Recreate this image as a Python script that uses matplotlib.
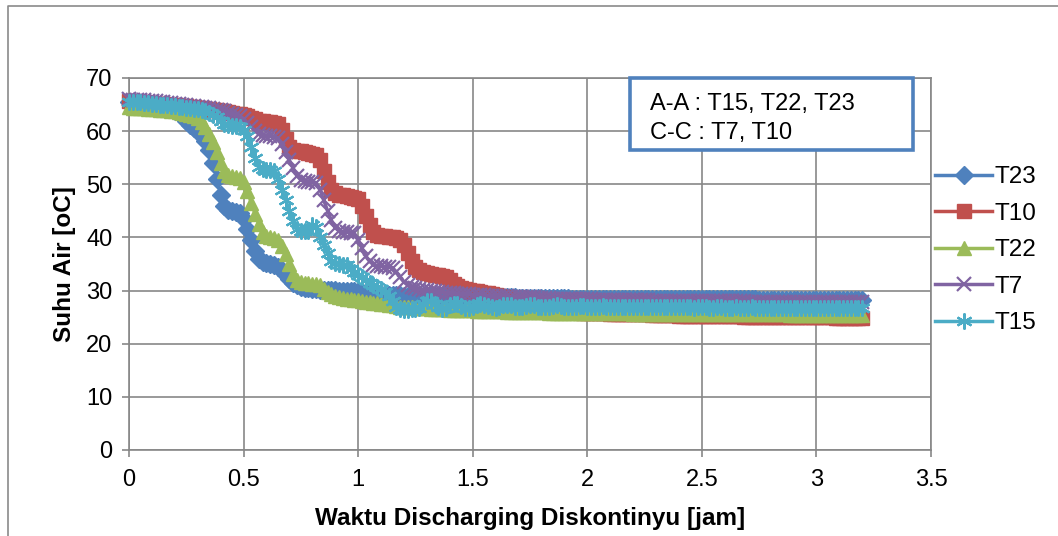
import numpy as np
import matplotlib
matplotlib.use('Agg')
import matplotlib.pyplot as plt
from matplotlib.patches import Rectangle
from matplotlib.lines import Line2D
from matplotlib.ticker import FormatStrFormatter

plt.rcParams['font.family'] = ['Liberation Sans', 'DejaVu Sans']

# waktu pengukuran tiap 1 menit, 0 - 192 menit
menit = np.arange(0, 193)
waktu = menit / 60.0

T23 = [65.5, 65.4, 65.4, 65.3, 65.2, 65.1, 65.0, 64.9, 64.8, 64.6,
       64.4, 64.1, 63.8, 63.4, 62.8, 62.0, 61.2, 60.5, 59.8, 59.2,
       58.2, 56.5, 54.0, 51.0, 48.0, 46.0, 45.2, 45.0, 44.8, 44.6,
       43.5, 41.5, 39.5, 37.5, 36.0, 35.3, 35.1, 35.0, 34.8, 34.5,
       33.8, 33.0, 32.2, 31.5, 31.0, 30.7, 30.5, 30.4, 30.3, 30.3,
       30.2, 30.2, 30.1, 30.1, 30.1, 30.0, 30.0, 30.0, 30.0, 29.9,
       29.8, 29.7, 29.6, 29.5, 29.4, 29.3, 29.3, 29.2, 29.2, 29.1,
       29.1, 29.1, 29.0, 29.0, 29.0, 29.0, 29.0, 28.9, 28.9, 28.9,
       28.9, 28.9, 28.9, 28.8, 28.8, 28.8, 28.8, 28.8, 28.8, 28.8,
       28.8, 28.7, 28.7, 28.7, 28.7, 28.7, 28.7, 28.7, 28.7, 28.7,
       28.7, 28.7, 28.6, 28.6, 28.6, 28.6, 28.6, 28.6, 28.6, 28.6,
       28.6, 28.6, 28.6, 28.6, 28.6, 28.6, 28.5, 28.5, 28.5, 28.5,
       28.5, 28.5, 28.5, 28.5, 28.5, 28.5, 28.5, 28.5, 28.5, 28.5,
       28.5, 28.5, 28.5, 28.5, 28.5, 28.4, 28.4, 28.4, 28.4, 28.4,
       28.4, 28.4, 28.4, 28.4, 28.4, 28.4, 28.4, 28.4, 28.4, 28.4,
       28.4, 28.4, 28.4, 28.4, 28.4, 28.4, 28.4, 28.4, 28.4, 28.4,
       28.4, 28.4, 28.4, 28.4, 28.4, 28.3, 28.3, 28.3, 28.3, 28.3,
       28.3, 28.3, 28.3, 28.3, 28.3, 28.3, 28.3, 28.3, 28.3, 28.3,
       28.3, 28.3, 28.3, 28.3, 28.3, 28.3, 28.3, 28.3, 28.3, 28.3,
       28.3, 28.3, 28.3]

T10 = [65.6, 65.5, 65.5, 65.4, 65.4, 65.3, 65.3, 65.2, 65.2, 65.1,
       65.0, 65.0, 64.9, 64.8, 64.8, 64.7, 64.6, 64.5, 64.4, 64.3,
       64.2, 64.1, 64.0, 63.9, 63.8, 63.7, 63.6, 63.5, 63.3, 63.2,
       63.0, 62.8, 62.5, 62.2, 62.0, 62.0, 61.8, 61.7, 61.5, 61.3,
       60.2, 58.5, 57.0, 56.5, 56.3, 56.2, 56.0, 55.8, 55.7, 55.5,
       54.5, 52.5, 50.5, 49.0, 48.3, 48.0, 48.0, 47.8, 47.7, 47.5,
       47.3, 46.0, 44.0, 42.3, 41.0, 40.5, 40.3, 40.2, 40.0, 40.0,
       39.8, 39.5, 38.5, 37.0, 35.5, 34.5, 33.8, 33.5, 33.3, 33.2,
       33.0, 33.0, 32.8, 32.6, 32.0, 31.3, 30.8, 30.5, 30.3, 30.1,
       30.0, 29.9, 29.8, 29.6, 29.5, 29.3, 29.1, 28.9, 28.7, 28.5,
       28.3, 28.1, 27.9, 27.7, 27.5, 27.3, 27.1, 26.9, 26.7, 26.6,
       26.5, 26.4, 26.3, 26.2, 26.1, 26.0, 26.0, 25.9, 25.9, 25.8,
       25.8, 25.8, 25.7, 25.7, 25.7, 25.7, 25.6, 25.6, 25.6, 25.6,
       25.6, 25.5, 25.5, 25.5, 25.5, 25.5, 25.5, 25.4, 25.4, 25.4,
       25.4, 25.4, 25.4, 25.4, 25.3, 25.3, 25.3, 25.3, 25.3, 25.3,
       25.3, 25.3, 25.2, 25.2, 25.2, 25.2, 25.2, 25.2, 25.2, 25.2,
       25.2, 25.1, 25.1, 25.1, 25.1, 25.1, 25.1, 25.1, 25.1, 25.1,
       25.1, 25.1, 25.0, 25.0, 25.0, 25.0, 25.0, 25.0, 25.0, 25.0,
       25.0, 25.0, 25.0, 25.0, 25.0, 24.9, 24.9, 24.9, 24.9, 24.9,
       24.9, 24.9, 24.9]

T22 = [64.5, 64.4, 64.4, 64.3, 64.3, 64.2, 64.2, 64.1, 64.0, 64.0,
       63.9, 63.8, 63.7, 63.6, 63.5, 63.3, 63.1, 62.8, 62.4, 61.8,
       60.8, 59.5, 58.0, 56.0, 54.0, 52.5, 51.8, 51.5, 51.4, 51.2,
       50.5, 48.8, 46.5, 44.5, 42.5, 41.0, 40.2, 40.0, 39.8, 39.5,
       38.3, 36.8, 35.0, 33.2, 32.0, 31.6, 31.5, 31.4, 31.3, 31.2,
       31.0, 30.3, 29.7, 29.3, 29.0, 28.8, 28.6, 28.5, 28.4, 28.3,
       28.2, 28.0, 27.9, 27.8, 27.7, 27.6, 27.5, 27.4, 27.3, 27.2,
       27.1, 27.0, 27.0, 26.9, 26.9, 26.8, 26.8, 26.7, 26.7, 26.6,
       26.6, 26.5, 26.5, 26.5, 26.4, 26.4, 26.4, 26.3, 26.3, 26.3,
       26.3, 26.2, 26.2, 26.2, 26.2, 26.1, 26.1, 26.1, 26.1, 26.0,
       26.0, 26.0, 26.0, 26.0, 25.9, 25.9, 25.9, 25.9, 25.9, 25.9,
       25.8, 25.8, 25.8, 25.8, 25.8, 25.8, 25.8, 25.8, 25.7, 25.7,
       25.7, 25.7, 25.7, 25.7, 25.7, 25.7, 25.7, 25.7, 25.7, 25.7,
       25.7, 25.7, 25.6, 25.6, 25.6, 25.6, 25.6, 25.6, 25.6, 25.6,
       25.6, 25.6, 25.6, 25.6, 25.6, 25.6, 25.6, 25.6, 25.6, 25.6,
       25.6, 25.6, 25.5, 25.5, 25.5, 25.5, 25.5, 25.5, 25.5, 25.5,
       25.5, 25.5, 25.5, 25.5, 25.5, 25.5, 25.5, 25.5, 25.5, 25.5,
       25.5, 25.5, 25.5, 25.4, 25.4, 25.4, 25.4, 25.4, 25.4, 25.4,
       25.4, 25.4, 25.4, 25.4, 25.4, 25.4, 25.4, 25.4, 25.4, 25.4,
       25.4, 25.4, 25.4]

T7 = [66.0, 65.9, 65.9, 65.8, 65.8, 65.7, 65.6, 65.6, 65.5, 65.4,
      65.3, 65.3, 65.2, 65.1, 65.0, 64.9, 64.8, 64.7, 64.6, 64.5,
      64.4, 64.3, 64.2, 64.0, 63.9, 63.7, 63.5, 63.3, 63.1, 62.9,
      62.3, 61.6, 60.8, 60.0, 59.5, 59.3, 59.1, 59.0, 58.9, 58.7,
      57.5, 56.0, 54.5, 53.0, 51.6, 50.8, 50.6, 50.5, 50.4, 50.3,
      49.0, 47.0, 45.0, 43.2, 41.8, 41.3, 41.1, 41.0, 40.9, 40.8,
      39.5, 38.0, 36.5, 35.5, 34.9, 34.7, 34.6, 34.5, 34.4, 34.3,
      33.5, 32.5, 31.6, 31.0, 30.6, 30.4, 30.3, 30.2, 30.1, 30.0,
      29.9, 29.8, 29.7, 29.6, 29.5, 29.5, 29.4, 29.4, 29.3, 29.3,
      29.2, 29.2, 29.1, 29.1, 29.0, 29.0, 29.0, 28.9, 28.9, 28.9,
      28.8, 28.8, 28.8, 28.7, 28.7, 28.7, 28.7, 28.6, 28.6, 28.6,
      28.6, 28.5, 28.5, 28.5, 28.5, 28.5, 28.4, 28.4, 28.4, 28.4,
      28.4, 28.4, 28.3, 28.3, 28.3, 28.3, 28.3, 28.3, 28.3, 28.2,
      28.2, 28.2, 28.2, 28.2, 28.2, 28.2, 28.2, 28.1, 28.1, 28.1,
      28.1, 28.1, 28.1, 28.1, 28.1, 28.1, 28.0, 28.0, 28.0, 28.0,
      28.0, 28.0, 28.0, 28.0, 28.0, 28.0, 28.0, 28.0, 28.0, 28.0,
      28.0, 28.0, 27.9, 27.9, 27.9, 27.9, 27.9, 27.9, 27.9, 27.9,
      27.9, 27.9, 27.9, 27.9, 27.8, 27.8, 27.8, 27.8, 27.8, 27.8,
      27.8, 27.8, 27.8, 27.8, 27.8, 27.8, 27.8, 27.8, 27.8, 27.8,
      27.8, 27.8, 27.8]

T15 = [65.5, 65.5, 65.4, 65.4, 65.3, 65.3, 65.2, 65.1, 65.0, 64.9,
       64.9, 64.8, 64.7, 64.6, 64.5, 64.4, 64.3, 64.2, 64.1, 64.0,
       63.8, 63.5, 63.1, 62.6, 62.0, 61.4, 61.1, 61.0, 60.9, 60.7,
       60.3, 59.0, 57.0, 55.0, 53.3, 52.9, 52.7, 52.6, 52.5, 51.0,
       49.0, 47.0, 45.0, 43.0, 41.6, 41.3, 41.2, 41.2, 42.3, 42.0,
       40.0, 38.5, 37.0, 35.6, 35.2, 35.0, 34.9, 34.8, 34.0, 33.5,
       33.0, 32.5, 32.0, 31.5, 31.0, 30.6, 30.3, 29.8, 29.0, 28.0,
       27.0, 26.5, 26.4, 26.4, 26.5, 26.6, 26.8, 27.5, 28.0, 28.0,
       27.5, 27.0, 26.5, 26.8, 27.2, 27.5, 27.4, 27.1, 26.8, 26.7,
       26.9, 27.2, 27.4, 27.3, 27.1, 26.9, 26.8, 27.0, 27.2, 27.3,
       27.2, 27.0, 26.9, 26.9, 27.1, 27.2, 27.2, 27.0, 26.9, 26.9,
       27.0, 27.1, 27.2, 27.1, 27.0, 26.9, 26.9, 27.0, 27.1, 27.1,
       27.0, 26.9, 26.9, 27.0, 27.1, 27.0, 27.0, 26.9, 26.9, 27.0,
       27.0, 27.0, 26.9, 26.9, 26.9, 27.0, 27.0, 26.9, 26.9, 26.9,
       27.0, 26.9, 26.9, 26.9, 26.9, 27.0, 26.9, 26.9, 26.8, 26.9,
       26.9, 26.9, 26.8, 26.8, 26.9, 26.9, 26.8, 26.8, 26.8, 26.9,
       26.8, 26.8, 26.8, 26.9, 26.8, 26.8, 26.8, 26.8, 26.8, 26.8,
       26.8, 26.8, 26.7, 26.8, 26.8, 26.7, 26.7, 26.8, 26.7, 26.7,
       26.7, 26.7, 26.7, 26.7, 26.7, 26.7, 26.7, 26.7, 26.7, 26.7,
       26.7, 26.7, 26.7]

labels = ['T23', 'T10', 'T22', 'T7', 'T15']
x_ticks = [0, 0.5, 1, 1.5, 2, 2.5, 3, 3.5]
y_ticks = [0, 10, 20, 30, 40, 50, 60, 70]
keterangan = ['A-A : T15, T22, T23', 'C-C : T7, T10']

W, H = 1058, 536
grid_col = '#878787'
fs = 17


def px(x, y):
    # pixel (from top-left) -> figure fraction
    return x / W, 1 - y / H


fig = plt.figure(figsize=(W / 100, H / 100), dpi=100)
ax = fig.add_axes([129 / W, (H - 450) / H, 802 / W, 372 / H])

# outer chart border (left and top only visible)
fig.add_artist(Line2D([8 / W, 8 / W, 1], [0, 1 - 6 / H, 1 - 6 / H],
                      color='#8a8a8a', lw=1.2, transform=fig.transFigure))

series = [T23, T10, T22, T7, T15]
colors = ['#4F81BD', '#C0504D', '#9BBB59', '#8064A2', '#4BACC6']
markers = ['D', 's', '^', 'x', (6, 2, 0)]
sizes = [9.5, 9.5, 10.5, 10, 11.5]

for data, lab, c, m, s in zip(series, labels, colors, markers, sizes):
    if m == 'x' or isinstance(m, tuple):
        ax.plot(waktu, data, color=c, lw=2.5, marker=m, ms=s, mew=1.6,
                label=lab, clip_on=False, zorder=3)
    else:
        ax.plot(waktu, data, color=c, lw=2.5, marker=m, ms=s, mec=c, mfc=c,
                label=lab, clip_on=False, zorder=3)

ax.set_xlim(0, 3.5)
ax.set_ylim(0, 70)
ax.set_xticks(x_ticks)
ax.set_yticks(y_ticks)
ax.xaxis.set_major_formatter(FormatStrFormatter('%g'))
ax.grid(True, color=grid_col, lw=1.2, zorder=0)
ax.set_axisbelow(True)
for sp in ax.spines.values():
    sp.set_color(grid_col)
    sp.set_linewidth(1.2)
ax.tick_params(axis='both', colors=grid_col, length=5, width=1.2,
               labelcolor='black', labelsize=fs)
ax.tick_params(axis='x', pad=9)
ax.tick_params(axis='y', pad=7)

ax.set_xlabel('Waktu Discharging Diskontinyu [jam]', fontsize=fs + 0.5,
              fontweight='bold', labelpad=11)
ax.set_ylabel('Suhu Air [oC]', fontsize=fs + 0.5, fontweight='bold',
              labelpad=7)

leg = ax.legend(loc='upper left', bbox_to_anchor=px(935, 166),
                bbox_transform=fig.transFigure, frameon=False,
                fontsize=fs + 0.5, handlelength=2.35, handletextpad=0.1,
                labelspacing=0.6, borderpad=0, borderaxespad=0)

# kotak keterangan
x0, y0 = px(630, 150)
x1, y1 = px(913, 78)
fig.add_artist(Rectangle((x0, y0), x1 - x0, y1 - y0, transform=fig.transFigure,
                         facecolor='white', edgecolor='#4F81BD', lw=2.6,
                         zorder=5))
for i, t in enumerate(keterangan):
    fx, fy = px(650, 104 + 29 * i)
    fig.text(fx, fy, t, fontsize=fs, va='center', ha='left', zorder=6)

plt.savefig('out.png', dpi=100)
